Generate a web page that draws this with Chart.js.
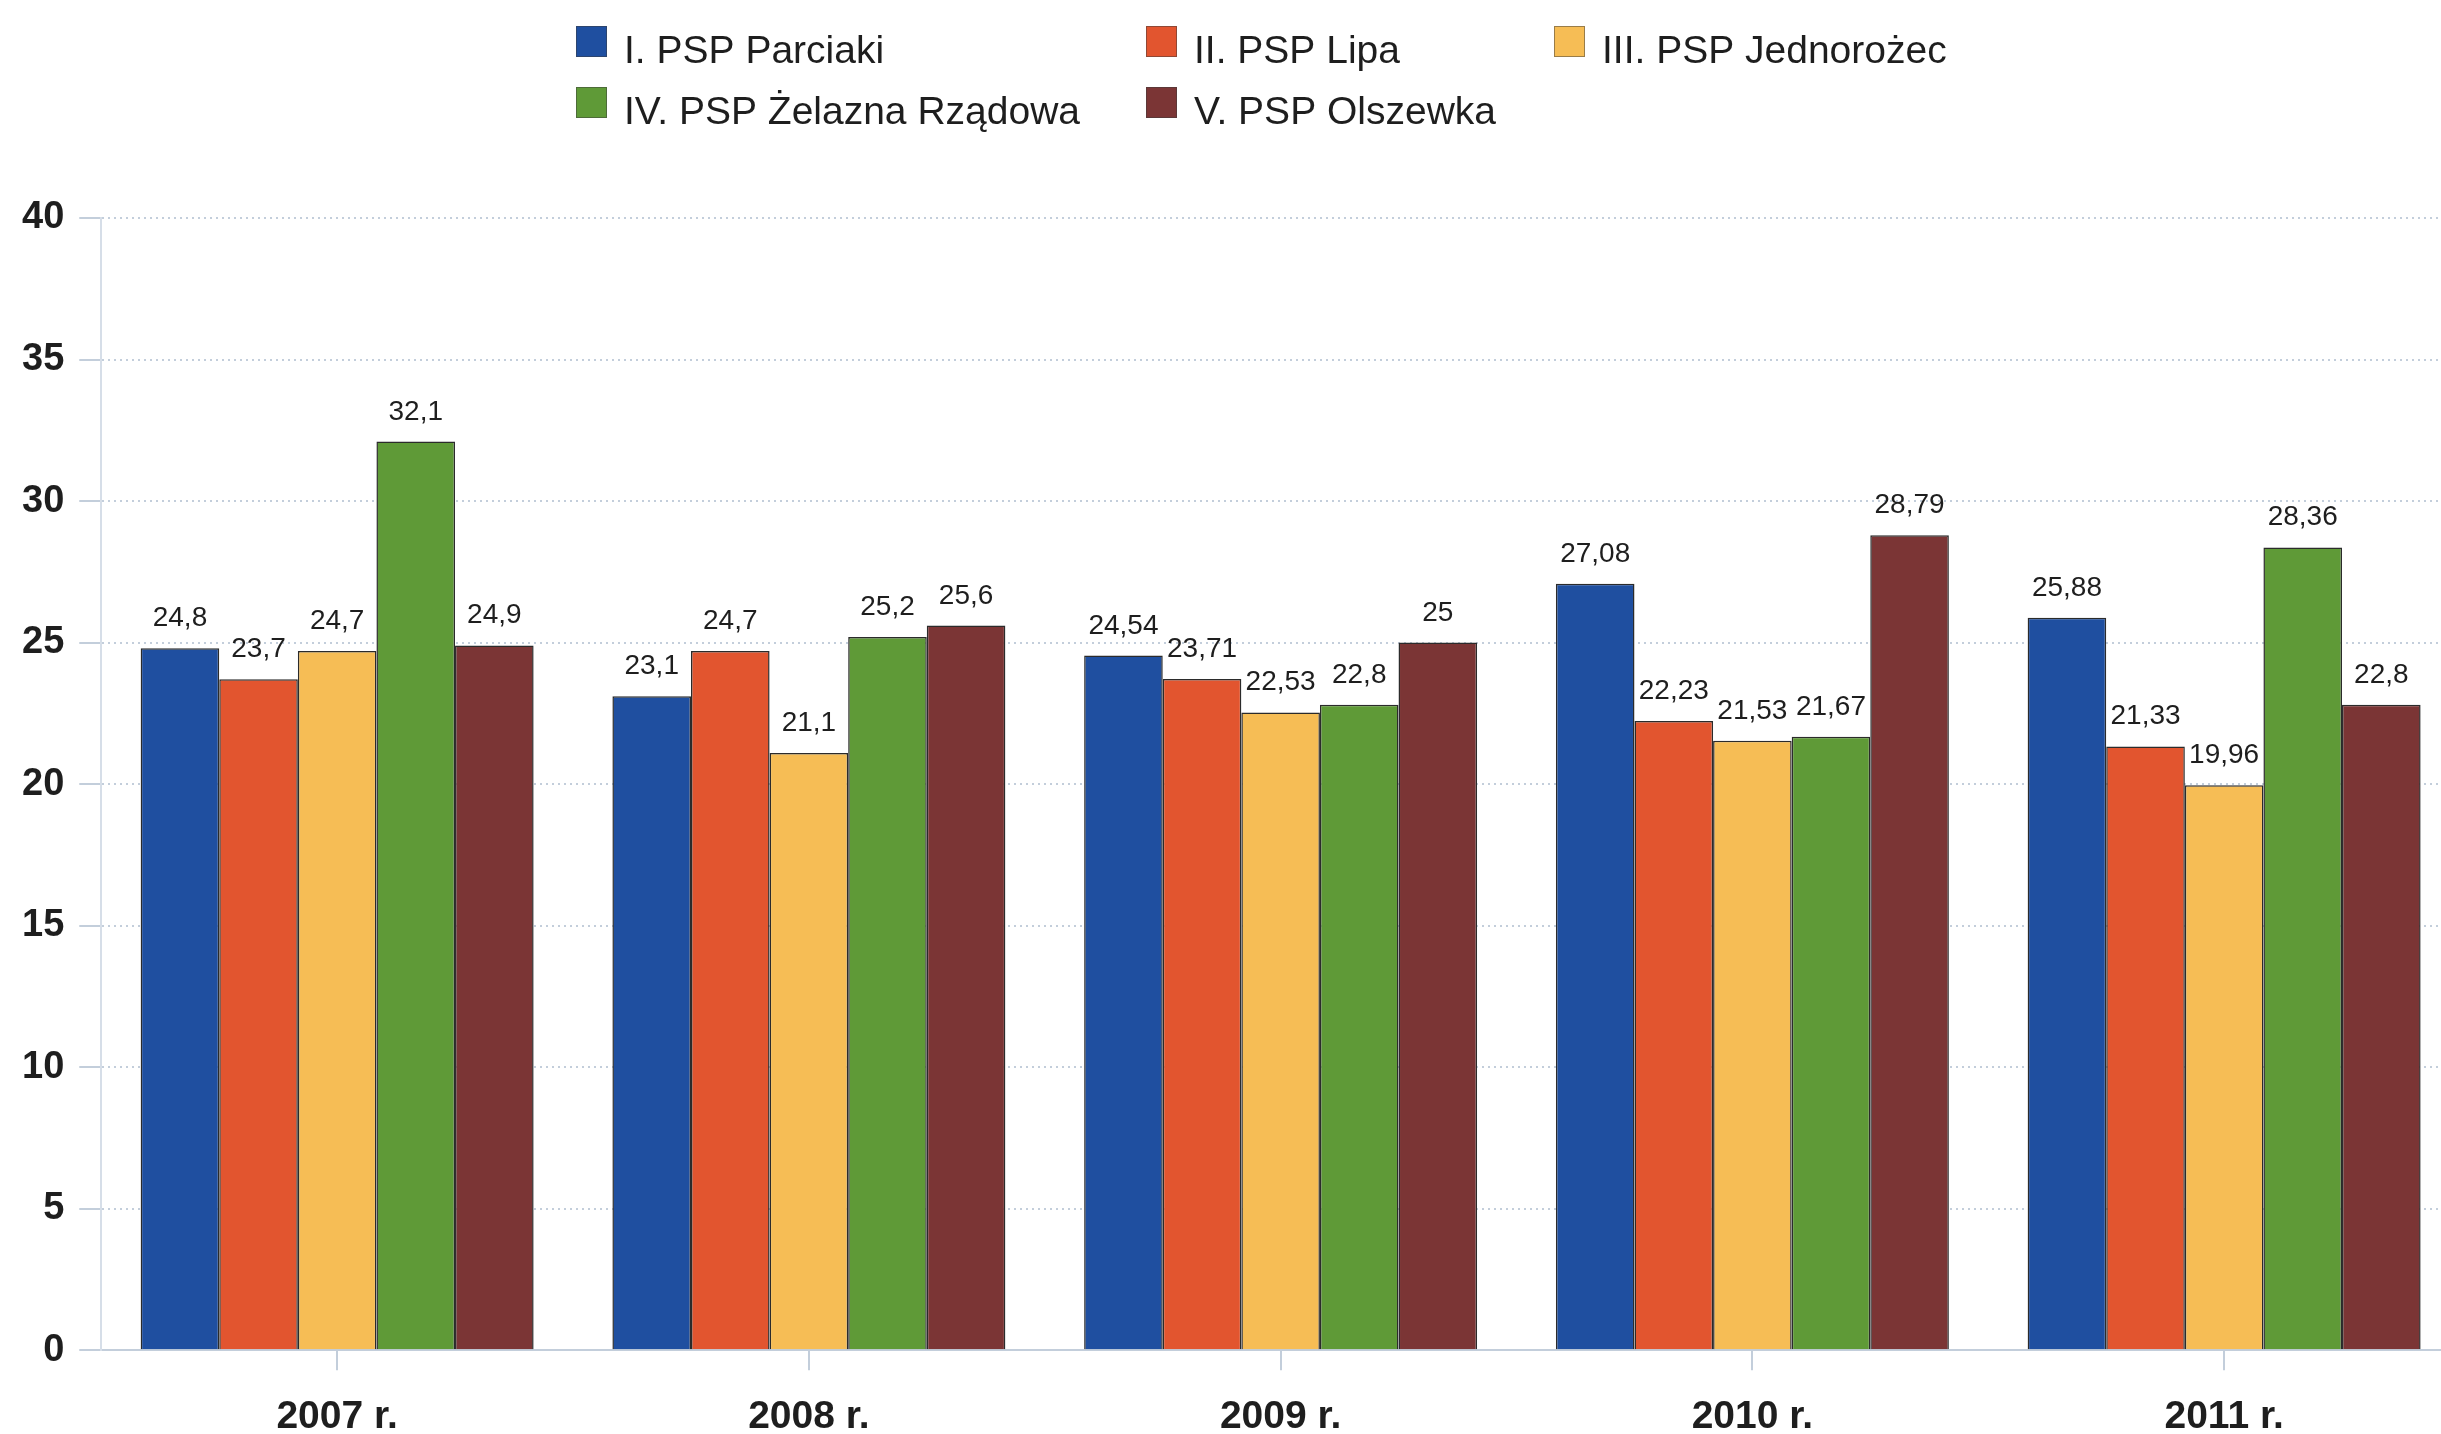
<!DOCTYPE html>
<html lang="pl">
<head>
<meta charset="utf-8">
<title>PSP - wykres</title>
<script src="https://cdn.jsdelivr.net/npm/chart.js@4.4.1/dist/chart.umd.min.js"></script>
<style>
	html, body { margin: 0; padding: 0; background: #fff; overflow: hidden; }
	#wrap { width: 2460px; height: 1465px; position: relative; }
</style>
</head>
<body>
<div id="wrap"><canvas id="pspChart"></canvas></div>
<script>
const years = ["2007 r.", "2008 r.", "2009 r.", "2010 r.", "2011 r."];
const schoolNames = ["I. PSP Parciaki", "II. PSP Lipa", "III. PSP Jednorożec", "IV. PSP Żelazna Rządowa", "V. PSP Olszewka"];
const parciaki = [24.8, 23.1, 24.54, 27.08, 25.88];
const lipa = [23.7, 24.7, 23.71, 22.23, 21.33];
const jednorozec = [24.7, 21.1, 22.53, 21.53, 19.96];
const zelaznaRzadowa = [32.1, 25.2, 22.8, 21.67, 28.36];
const olszewka = [24.9, 25.6, 25, 28.79, 22.8];
const yTicks = [0, 5, 10, 15, 20, 25, 30, 35, 40];

const seriesValues = [parciaki, lipa, jednorozec, zelaznaRzadowa, olszewka];
const barColors = ['#1f4fa0', '#e2552f', '#f6bd55', '#5f9a37', '#7b3535'];
const gridColor = '#c3cedb';
const textColor = '#1e1e1e';
const fontFamily = '"Liberation Sans", Arial, sans-serif';

function formatPl(v) {
	return v.toString().replace('.', ',');
}

// value labels above each bar, taken from the bar elements
const valueLabels = {
	id: 'valueLabels',
	afterDatasetsDraw(chart) {
		const ctx = chart.ctx;
		ctx.save();
		ctx.font = '28px ' + fontFamily;
		ctx.fillStyle = textColor;
		ctx.textAlign = 'center';
		ctx.textBaseline = 'alphabetic';
		chart.data.datasets.forEach((ds, i) => {
			chart.getDatasetMeta(i).data.forEach((bar, j) => {
				ctx.fillText(formatPl(ds.data[j]), bar.x, bar.y - 22);
			});
		});
		ctx.restore();
	}
};

// legend laid out as a grid of 3 columns like in the original
const gridLegend = {
	id: 'gridLegend',
	afterDraw(chart) {
		const ctx = chart.ctx;
		const colX = [576, 1146, 1554];
		const rowY = [26, 87];
		ctx.save();
		ctx.font = '39px ' + fontFamily;
		ctx.textAlign = 'left';
		ctx.textBaseline = 'alphabetic';
		chart.data.datasets.forEach((ds, i) => {
			const x = colX[i % 3];
			const y = rowY[Math.floor(i / 3)];
			ctx.fillStyle = ds.backgroundColor;
			ctx.fillRect(x, y, 31, 31);
			ctx.strokeStyle = 'rgba(60,60,60,0.5)';
			ctx.lineWidth = 1;
			ctx.strokeRect(x + 0.5, y + 0.5, 30, 30);
			ctx.fillStyle = textColor;
			ctx.fillText(ds.label, x + 48, y + 37);
		});
		ctx.restore();
	}
};

const datasets = schoolNames.map((name, i) => ({
	label: name,
	data: seriesValues[i],
	backgroundColor: barColors[i],
	borderColor: '#2b2b2b',
	borderWidth: 1.5,
	barPercentage: 1,
	categoryPercentage: 0.833
}));

new Chart(document.getElementById('pspChart').getContext('2d'), {
	type: 'bar',
	data: { labels: years, datasets: datasets },
	options: {
		responsive: true,
		maintainAspectRatio: false,
		animation: false,
		layout: { padding: { top: 218, left: 7, right: 0, bottom: 0 } },
		plugins: {
			legend: { display: false },
			tooltip: { enabled: false }
		},
		scales: {
			x: {
				grid: {
					offset: false,
					drawOnChartArea: false,
					tickLength: 20,
					color: gridColor,
					lineWidth: 2
				},
				border: { display: true, color: gridColor, width: 2, dash: [2, 4] },
				ticks: {
					padding: 24,
					color: textColor,
					font: { family: fontFamily, size: 39, weight: 'bold' }
				}
			},
			y: {
				min: 0,
				max: 40,
				afterBuildTicks(scale) {
					scale.ticks = yTicks.map(v => ({ value: v }));
				},
				grid: {
					tickLength: 22,
					color: gridColor,
					lineWidth: 2
				},
				border: { display: true, color: '#d6dee8', width: 2, dash: [2, 4] },
				ticks: {
					padding: 15,
					color: textColor,
					font: { family: fontFamily, size: 38, weight: 'bold' }
				}
			}
		}
	},
	plugins: [valueLabels, gridLegend]
});
</script>
</body>
</html>
